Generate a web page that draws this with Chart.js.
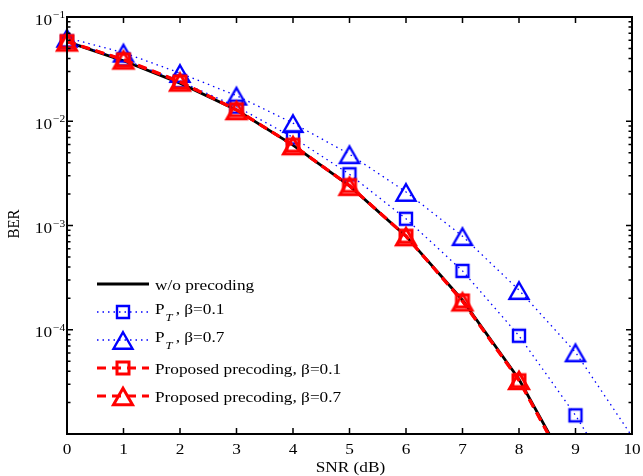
<!DOCTYPE html>
<html>
<head>
<meta charset="utf-8">
<script src="https://cdn.jsdelivr.net/npm/chart.js@4.4.1/dist/chart.umd.min.js"></script>
<style>
  html, body { margin: 0; padding: 0; background: #fff; }
  #wrap { width: 643px; height: 476px; }
</style>
</head>
<body>
<div id="wrap"><canvas id="berChart" width="643" height="476"></canvas></div>
<script>
// SNR (dB) and BER values
const snr = [0, 1, 2, 3, 4, 5, 6, 7, 8, 9, 10];
const berNoPrecoding = [0.058, 0.038, 0.0232, 0.0128, 0.0059, 0.0024, 0.00079, 0.000192, 0.0000335, 0.0000035];
const berPtBeta01 = [0.058, 0.0392, 0.0242, 0.0138, 0.0070, 0.0031, 0.00116, 0.000367, 0.0000875, 0.0000151, 0.000002];
const berPtBeta07 = [0.0632, 0.0455, 0.029, 0.0176, 0.0096, 0.00483, 0.0021, 0.00079, 0.00024, 0.0000607, 0.0000095];
const berPropBeta01 = [0.0582, 0.0388, 0.0238, 0.0129, 0.0059, 0.00242, 0.00079, 0.000189, 0.0000325, 0.0000033];
const berPropBeta07 = [0.0582, 0.0391, 0.024, 0.0128, 0.0059, 0.0024, 0.00079, 0.000187, 0.000033, 0.0000033];

const seriesLabels = ["w/o precoding", "P_T, \u03b2=0.1", "P_T, \u03b2=0.7",
  "Proposed precoding, \u03b2=0.1", "Proposed precoding, \u03b2=0.7"];

const xTicks = [0, 1, 2, 3, 4, 5, 6, 7, 8, 9, 10];
const yDecades = [1e-5, 1e-4, 1e-3, 1e-2, 1e-1];
const yLabelled = [1e-4, 1e-3, 1e-2, 1e-1];
const yLabelExp = ["\u22124", "\u22123", "\u22122", "\u22121"];
const yMin = 1e-5, yMax = 1e-1;

const FONT = '"Liberation Serif", "Times New Roman", serif';
const SX = 1.15; // text in the figure is a bit wider than tall

function pts(values) {
  return values.map((v, i) => ({ x: snr[i], y: v }));
}

function makeMarker(shape, color, lw) {
  const c = document.createElement("canvas");
  c.width = 30; c.height = 30;
  const g = c.getContext("2d");
  g.strokeStyle = color;
  g.lineWidth = lw;
  g.lineJoin = "miter";
  g.beginPath();
  if (shape === "square") {
    const s = 12;
    g.rect(15 - s / 2, 15 - s / 2, s, s);
  } else {
    const w = 19, h = 16.5;
    g.moveTo(15, 15.5 - h / 2);
    g.lineTo(15 + w / 2, 15.5 + h / 2);
    g.lineTo(15 - w / 2, 15.5 + h / 2);
    g.closePath();
  }
  g.stroke();
  return c;
}

const blueSq = makeMarker("square", "#0000ff", 2.4);
const blueTri = makeMarker("triangle", "#0000ff", 2.4);
const redSq = makeMarker("square", "#ff0000", 3);
const redTri = makeMarker("triangle", "#ff0000", 3);

const clipArea = { left: 20, top: 20, right: 20, bottom: 0 };
const hideBelow = c => (c.raw && c.raw.y >= yMin) ? 8 : 0;

function txt(ctx, str, x, y, size, align, italic) {
  ctx.save();
  ctx.font = (italic ? "italic " : "") + size + "px " + FONT;
  ctx.textBaseline = "alphabetic";
  ctx.textAlign = "left";
  const w = ctx.measureText(str).width * SX;
  const x0 = align === "center" ? x - w / 2 : (align === "right" ? x - w : x);
  ctx.translate(x0, y);
  ctx.scale(SX, 1);
  ctx.fillStyle = "#000";
  ctx.fillText(str, 0, 0);
  ctx.restore();
  return w;
}

const axesPlugin = {
  id: "matlabAxes",
  afterDraw(chart) {
    const ctx = chart.ctx;
    const a = chart.chartArea;
    const xs = chart.scales.x, ys = chart.scales.y;

    ctx.save();
    ctx.strokeStyle = "#000";
    ctx.lineWidth = 1.5;
    ctx.beginPath();
    // x ticks, bottom and top, inward
    xTicks.forEach(t => {
      const px = xs.getPixelForValue(t);
      ctx.moveTo(px, a.bottom); ctx.lineTo(px, a.bottom - 6);
      ctx.moveTo(px, a.top); ctx.lineTo(px, a.top + 6);
    });
    // y ticks, major and minor, left and right
    yDecades.forEach(d => {
      for (let k = 1; k <= 9; k++) {
        const v = d * k;
        if (v > yMax * 1.0001) break;
        const py = ys.getPixelForValue(v);
        const len = k === 1 ? 6 : 3.5;
        ctx.moveTo(a.left, py); ctx.lineTo(a.left + len, py);
        ctx.moveTo(a.right, py); ctx.lineTo(a.right - len, py);
      }
    });
    ctx.stroke();

    ctx.lineWidth = 2;
    ctx.strokeRect(a.left, a.top, a.right - a.left, a.bottom - a.top);
    ctx.restore();

    // tick labels
    xTicks.forEach(t => txt(ctx, String(t), xs.getPixelForValue(t), 454, 15, "center"));
    yLabelled.forEach((v, i) => {
      const py = ys.getPixelForValue(v);
      txt(ctx, "10", 52, py + 7.5, 15, "right");
      txt(ctx, yLabelExp[i], 53, py + 1, 10, "left");
    });

    // axis titles
    txt(ctx, "SNR (dB)", (a.left + a.right) / 2 + 1, 472, 15, "center");
    ctx.save();
    ctx.translate(18.5, 224);
    ctx.rotate(-Math.PI / 2);
    ctx.scale(1, SX);
    ctx.font = "15px " + FONT;
    ctx.textAlign = "center";
    ctx.textBaseline = "alphabetic";
    ctx.fillStyle = "#000";
    ctx.fillText("BER", 0, 0);
    ctx.restore();

    // legend (no box)
    chart.data.datasets.forEach((ds, i) => {
      const y = 284 + 28 * i;
      ctx.save();
      ctx.strokeStyle = ds.borderColor;
      ctx.lineWidth = ds.borderWidth;
      ctx.setLineDash(ds.borderDash || []);
      ctx.beginPath();
      ctx.moveTo(97, y); ctx.lineTo(149, y);
      ctx.stroke();
      ctx.restore();
      if (ds.pointStyle && typeof ds.pointStyle === "object") {
        ctx.drawImage(ds.pointStyle, 123 - 15, y - 15);
      }
      const label = ds.label;
      if (label.indexOf("_") === 1) {
        let x = 155;
        x += txt(ctx, label.charAt(0), x, y + 1.5, 15, "left");
        x += 1;
        x += txt(ctx, label.charAt(2), x, y + 8.5, 11, "left", true);
        txt(ctx, label.slice(3), x + 3, y + 1.5, 15, "left");
      } else {
        txt(ctx, label, 155, y + 6, 15, "left");
      }
    });
  }
};

new Chart(document.getElementById("berChart"), {
  type: "line",
  data: {
    datasets: [
      {
        label: seriesLabels[0], data: pts(berNoPrecoding),
        borderColor: "#000000", borderWidth: 2.8, pointRadius: 0,
        order: 5, clip: clipArea
      },
      {
        label: seriesLabels[1], data: pts(berPtBeta01),
        borderColor: "#0000ff", borderWidth: 1.3, borderDash: [1.5, 4],
        pointStyle: blueSq, pointRadius: hideBelow,
        order: 4, clip: clipArea
      },
      {
        label: seriesLabels[2], data: pts(berPtBeta07),
        borderColor: "#0000ff", borderWidth: 1.3, borderDash: [1.5, 4],
        pointStyle: blueTri, pointRadius: hideBelow,
        order: 3, clip: clipArea
      },
      {
        label: seriesLabels[3], data: pts(berPropBeta01),
        borderColor: "#ff0000", borderWidth: 3, borderDash: [9, 6],
        pointStyle: redSq, pointRadius: hideBelow,
        order: 2, clip: clipArea
      },
      {
        label: seriesLabels[4], data: pts(berPropBeta07),
        borderColor: "#ff0000", borderWidth: 3, borderDash: [9, 6],
        pointStyle: redTri, pointRadius: hideBelow,
        order: 1, clip: clipArea
      }
    ]
  },
  options: {
    responsive: false,
    animation: false,
    events: [],
    layout: { padding: { left: 67, right: 9, top: 17, bottom: 42 } },
    elements: { line: { tension: 0, fill: false, borderCapStyle: "butt" } },
    scales: {
      x: { type: "linear", min: 0, max: 10, display: false },
      y: { type: "logarithmic", min: yMin, max: yMax, display: false }
    },
    plugins: {
      legend: { display: false },
      tooltip: { enabled: false }
    }
  },
  plugins: [axesPlugin]
});
</script>
</body>
</html>
